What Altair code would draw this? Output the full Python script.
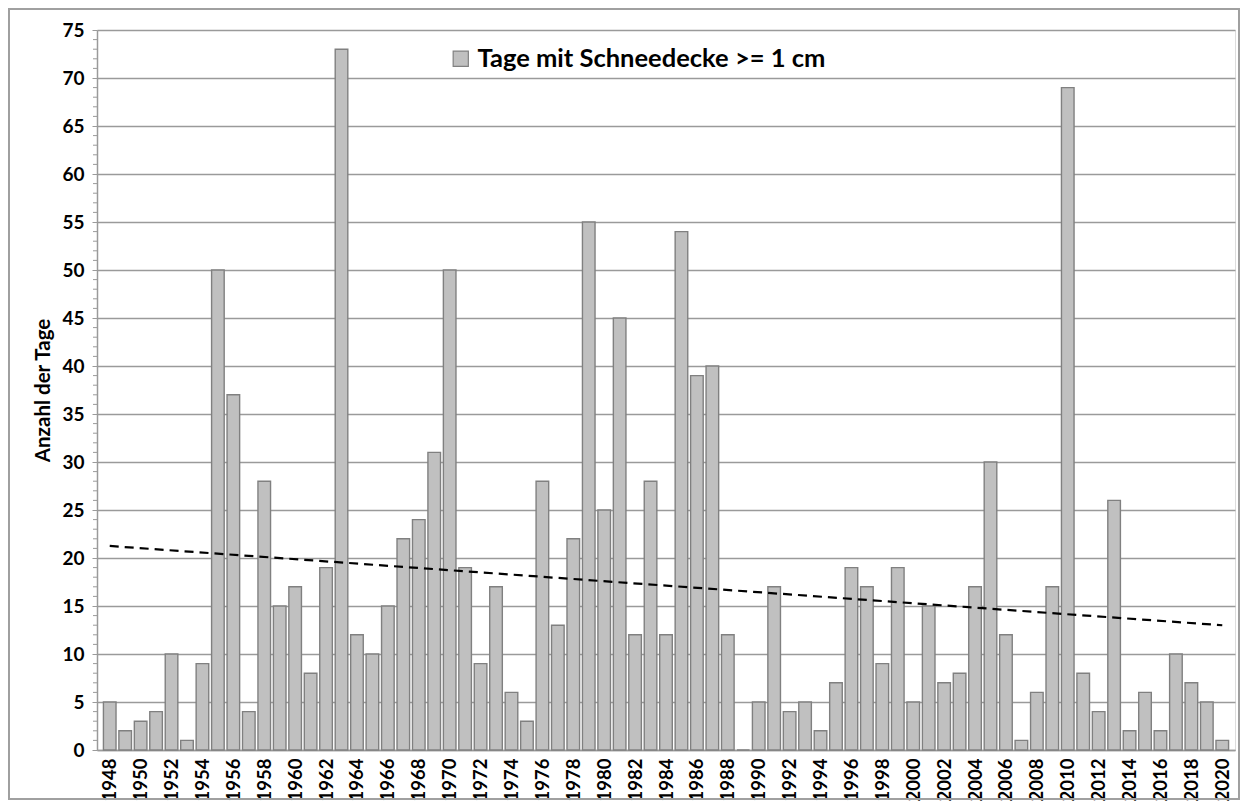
import altair as alt
import pandas as pd

years = list(range(1948, 2021))
days = [5, 2, 3, 4, 10, 1, 9, 50, 37, 4,
        28, 15, 17, 8, 19, 73, 12, 10, 15, 22,
        24, 31, 50, 19, 9, 17, 6, 3, 28, 13,
        22, 55, 25, 45, 12, 28, 12, 54, 39, 40,
        12, 0, 5, 17, 4, 5, 2, 7, 19, 17,
        9, 19, 5, 15, 7, 8, 17, 30, 12, 1,
        6, 17, 69, 8, 4, 26, 2, 6, 2, 10,
        7, 5, 1]
series_name = "Tage mit Schneedecke >= 1 cm"
y_ticks = list(range(0, 76, 5))
y_minor = [v for v in range(0, 76) if v % 5 != 0]
x_labels = list(range(1948, 2021, 2))

df = pd.DataFrame({"year": years, "days": days, "series": series_name})
minor_df = pd.DataFrame({"v": y_minor})

FONT = "Lato"
W, H = 1138, 720

xscale = alt.Scale(domain=[1947.5, 2020.5], nice=False, zero=False)
yscale = alt.Scale(domain=[0, 75], nice=False)

xaxis = alt.Axis(values=x_labels, format="d", labelAngle=-90, title=None,
                 grid=False, ticks=False, labelFont=FONT, labelFontSize=18.5,
                 labelFontWeight="bold", labelColor="#000", labelPadding=8,
                 domainColor="#9a9a9a", domainWidth=1.5, labelOverlap=False,
                 labelFlush=False)
yaxis = alt.Axis(values=y_ticks, title="Anzahl der Tage", grid=True,
                 gridColor="#9a9a9a", gridWidth=1.4, tickColor="#9a9a9a",
                 tickSize=5, labelFont=FONT, labelFontSize=19,
                 labelFontWeight="bold", labelColor="#000", labelPadding=8,
                 titleFont=FONT, titleFontSize=20.5, titleFontWeight="bold",
                 titleColor="#000", titlePadding=8,
                 domainColor="#9a9a9a", domainWidth=1.5, labelOverlap=False)

bars = alt.Chart(df).mark_bar(size=12.6, stroke="#808080", strokeWidth=1.4).encode(
    x=alt.X("year:Q", scale=xscale, axis=xaxis),
    y=alt.Y("days:Q", scale=yscale, axis=yaxis),
    color=alt.Color("series:N", scale=alt.Scale(range=["#c0c0c0"]),
                    legend=alt.Legend(title=None, orient="none", legendX=351, legendY=16,
                                      symbolType="square", symbolSize=230,
                                      symbolStrokeColor="#808080", symbolStrokeWidth=1.2,
                                      labelFont=FONT, labelFontSize=25.5, labelLimit=700,
                                      labelFontWeight="bold", labelColor="#000")),
)

trend = alt.Chart(df).transform_regression("year", "days").mark_line(
    color="#000", strokeWidth=2.2, strokeDash=[9, 6]
).encode(x=alt.X("year:Q", scale=xscale, axis=xaxis),
         y=alt.Y("days:Q", scale=yscale, axis=yaxis))

minor = alt.Chart(minor_df).mark_rule(color="#9a9a9a", strokeWidth=1).encode(
    y=alt.Y("v:Q", scale=yscale, axis=yaxis), x=alt.value(-4), x2=alt.value(0)
)

border = alt.Chart(minor_df).mark_rect(fill=None, stroke="#a0a0a0", strokeWidth=1.2).encode(
    x=alt.value(-88), x2=alt.value(W + 4), y=alt.value(-21), y2=alt.value(H + 49)
)

chart = alt.layer(border, bars, trend, minor).properties(
    width=W, height=H,
    autosize=alt.AutoSizeParams(type="none"),
    padding={"left": 89, "top": 22, "right": 5, "bottom": 51},
).configure_view(stroke="#9a9a9a", strokeWidth=1.5).configure(background="white")

chart.save("out.html", embed_options={"renderer": "svg", "actions": False})
